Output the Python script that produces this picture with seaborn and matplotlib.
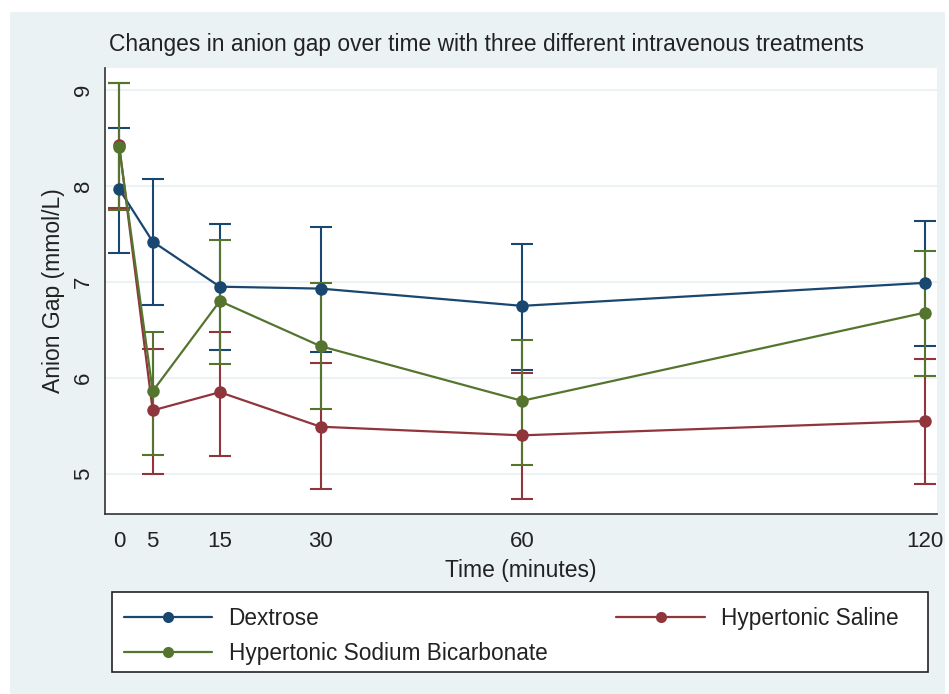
import numpy as np
import pandas as pd
import matplotlib
matplotlib.use('Agg')
import matplotlib.pyplot as plt
import seaborn as sns
from matplotlib.patches import Rectangle

# Valores (média e limites das barras de erro)
time = [0, 5, 15, 30, 60, 120]
dextrose_mean = [7.97, 7.42, 6.95, 6.93, 6.75, 6.99]
dextrose_lo = [7.30, 6.76, 6.29, 6.27, 6.08, 6.33]
dextrose_hi = [8.60, 8.07, 7.60, 7.57, 7.39, 7.64]
saline_mean = [8.43, 5.66, 5.85, 5.49, 5.40, 5.55]
saline_lo = [7.77, 5.00, 5.18, 4.84, 4.74, 4.89]
saline_hi = [9.07, 6.30, 6.48, 6.15, 6.05, 6.20]
bicarb_mean = [8.41, 5.86, 6.80, 6.33, 5.76, 6.68]
bicarb_lo = [7.75, 5.19, 6.14, 5.67, 5.09, 6.02]
bicarb_hi = [9.07, 6.48, 7.44, 6.99, 6.39, 7.32]

groups = ['Dextrose', 'Hypertonic Saline', 'Hypertonic Sodium Bicarbonate']
colors = {'Dextrose': '#1A476F', 'Hypertonic Saline': '#90353B',
          'Hypertonic Sodium Bicarbonate': '#55752F'}

df = pd.concat([
    pd.DataFrame({'Time': time, 'Mean': dextrose_mean, 'Lo': dextrose_lo, 'Hi': dextrose_hi, 'Group': groups[0]}),
    pd.DataFrame({'Time': time, 'Mean': saline_mean, 'Lo': saline_lo, 'Hi': saline_hi, 'Group': groups[1]}),
    pd.DataFrame({'Time': time, 'Mean': bicarb_mean, 'Lo': bicarb_lo, 'Hi': bicarb_hi, 'Group': groups[2]}),
], ignore_index=True)

sns.set_style('white')
plt.rcParams['font.family'] = ['Liberation Sans', 'DejaVu Sans']

fig = plt.figure(figsize=(9.49, 6.94), dpi=100, facecolor='white')
# fundo estilo Stata
fig.patches.append(Rectangle((10 / 949, 0), 935 / 949, 1 - 12 / 694,
                             transform=fig.transFigure, facecolor='#EAF2F3',
                             edgecolor='none', zorder=-10))
ax = fig.add_axes([105 / 949, 1 - 514 / 694, 832 / 949, 446 / 694])
ax.set_facecolor('white')

for g in groups:
    d = df[df['Group'] == g]
    ax.errorbar(d['Time'], d['Mean'], yerr=[d['Mean'] - d['Lo'], d['Hi'] - d['Mean']],
                fmt='none', ecolor=colors[g], elinewidth=1.5, capsize=8, capthick=1.5, zorder=2)

sns.lineplot(data=df, x='Time', y='Mean', hue='Group', hue_order=groups, palette=colors,
             marker='o', markersize=9, markeredgewidth=0, linewidth=1.6, ax=ax,
             legend=False, zorder=3)

ax.set_xlim(-2.1, 121.8)
ax.set_ylim(4.58, 9.23)
ax.set_xticks(time)
ax.set_yticks([5, 6, 7, 8, 9])
ax.yaxis.grid(True, color='#EAF2F3', linewidth=1.5)
ax.set_axisbelow(True)
for s in ['top', 'right']:
    ax.spines[s].set_visible(False)
for s in ['left', 'bottom']:
    ax.spines[s].set_color('#333333')
    ax.spines[s].set_linewidth(1.2)
ax.tick_params(axis='both', direction='out', length=6, width=1.2, color='#333333',
               labelsize=16, labelcolor='#222222')
ax.tick_params(axis='x', pad=6)
ax.tick_params(axis='y', labelrotation=90, pad=2)
for lbl in ax.get_yticklabels():
    lbl.set_verticalalignment('center')

ax.set_xlabel('Time (minutes)', fontsize=16.5, color='#222222', labelpad=5)
ax.set_ylabel('Anion Gap (mmol/L)', fontsize=16.5, color='#222222', labelpad=6)
fig.text(0.513, 1 - 45 / 694, 'Changes in anion gap over time with three different intravenous treatments',
         ha='center', va='center', fontsize=16.4, color='#222222')

# legenda: moldura desenhada à parte
fig.patches.append(Rectangle((112 / 949, 1 - 672 / 694), 816 / 949, 80 / 694,
                             transform=fig.transFigure, facecolor='white',
                             edgecolor='#222222', linewidth=1.2, zorder=1))
handles = [plt.Line2D([], [], color=colors[g], marker='o', markersize=8, markeredgewidth=0,
                      linewidth=1.6) for g in [groups[0], groups[2], groups[1]]]
labels = [groups[0], groups[2], groups[1]]
leg = fig.legend(handles, labels, ncol=2, loc='upper left',
                 bbox_to_anchor=(124 / 949, 1 - 607 / 694),
                 bbox_transform=fig.transFigure, fontsize=16.3, handlelength=3.9,
                 handletextpad=0.72, columnspacing=3.05,
                 frameon=False, borderaxespad=0, labelspacing=0.52, borderpad=0)
for t in leg.get_texts():
    t.set_color('#222222')

fig.savefig('out.png', dpi=100, facecolor=fig.get_facecolor())
